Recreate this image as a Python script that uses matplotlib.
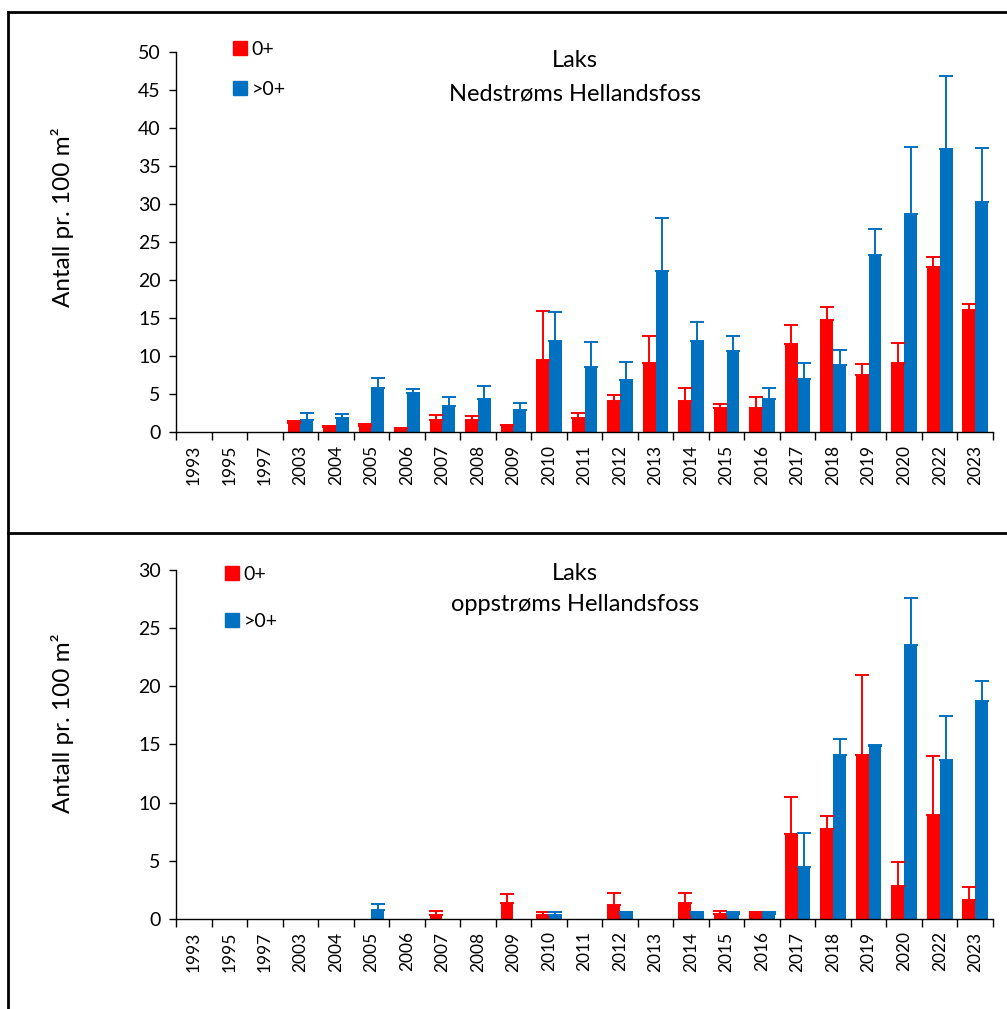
import numpy as np
import matplotlib
matplotlib.use("Agg")
import matplotlib.pyplot as plt
from matplotlib.lines import Line2D
from matplotlib.patches import Patch

plt.rcParams['font.family'] = ['Lato', 'DejaVu Sans']

years = ['1993', '1995', '1997', '2003', '2004', '2005', '2006', '2007', '2008',
         '2009', '2010', '2011', '2012', '2013', '2014', '2015', '2016', '2017',
         '2018', '2019', '2020', '2022', '2023']

# Nedstrøms Hellandsfoss
ned_0 = [0, 0, 0, 1.2, 0.6, 0.8, 0.5, 1.6, 1.6, 0.9, 9.5, 1.8, 4.1, 9.1, 4.1,
         3.2, 3.1, 11.6, 14.8, 7.5, 9.1, 21.7, 16.0]
ned_0_err = [0, 0, 0, 0.3, 0.26, 0.3, 0, 0.7, 0.57, 0.05, 6.4, 0.65, 0.8, 3.6, 1.7,
             0.5, 1.5, 2.5, 1.7, 1.4, 2.6, 1.3, 0.9]
ned_1 = [0, 0, 0, 1.6, 1.8, 5.8, 5.2, 3.4, 4.4, 2.85, 12.0, 8.55, 6.9, 21.2, 12.0,
         10.65, 4.3, 7.0, 8.85, 23.3, 28.7, 37.3, 30.25]
ned_1_err = [0, 0, 0, 0.9, 0.6, 1.3, 0.5, 1.2, 1.7, 1.0, 3.8, 3.3, 2.35, 7.0, 2.5,
             2.0, 1.45, 2.1, 2.0, 3.4, 8.8, 9.6, 7.15]

# oppstrøms Hellandsfoss
opp_0 = [0, 0, 0, 0, 0, 0, 0, 0.37, 0, 1.38, 0.37, 0, 1.22, 0, 1.41,
         0.4, 0.4, 7.34, 7.74, 14.12, 2.82, 8.93, 1.62]
opp_0_err = [0, 0, 0, 0, 0, 0, 0, 0.3, 0, 0.77, 0.23, 0, 1.0, 0, 0.84,
             0.29, 0.2, 3.13, 1.12, 6.84, 2.08, 5.05, 1.15]
opp_1 = [0, 0, 0, 0, 0, 0.74, 0, 0, 0, 0, 0.37, 0, 0.4, 0, 0.4,
         0.4, 0.4, 4.5, 14.12, 14.86, 23.55, 13.64, 18.75]
opp_1_err = [0, 0, 0, 0, 0, 0.55, 0, 0, 0, 0, 0.23, 0, 0.2, 0, 0.2,
             0.2, 0.2, 2.93, 1.34, 0.11, 4.05, 3.84, 1.75]

RED = '#FF0000'
BLUE = '#0070C0'
W = 0.36

fig = plt.figure(figsize=(10.07, 10.09), dpi=100)


def panel(rect, v0, e0, v1, e1, ymax, title, title_y, lsp, ylab_y, leg_anchor, leg_sp):
    ax = fig.add_axes(rect)
    x = np.arange(len(years))
    for vals, errs, off, col in [(v0, e0, -W / 2, RED), (v1, e1, W / 2, BLUE)]:
        vals = np.array(vals, float)
        errs = np.array(errs, float)
        ax.bar(x + off, vals, W, color=col, zorder=2)
        m = vals > 0
        ax.errorbar(x[m] + off, vals[m], yerr=[np.zeros(m.sum()), errs[m]],
                    fmt='none', ecolor=col, elinewidth=1.4, capsize=5,
                    capthick=1.4, zorder=3)
    ax.set_xlim(-0.5, len(years) - 0.5)
    ax.set_ylim(0, ymax)
    ax.set_yticks(np.arange(0, ymax + 1, 5))
    ax.set_xticks(x)
    ax.set_xticklabels(years, rotation=90, fontsize=12.5)
    ax.set_xticks(np.arange(len(years) + 1) - 0.5, minor=True)
    ax.tick_params(axis='x', which='major', length=0, pad=9)
    ax.tick_params(axis='x', which='minor', length=6, width=1)
    ax.tick_params(axis='y', length=5, width=1, labelsize=14, pad=6)
    for s in ['top', 'right']:
        ax.spines[s].set_visible(False)
    for s in ['left', 'bottom']:
        ax.spines[s].set_linewidth(1)
    ax.text(0.488, title_y, title, transform=ax.transAxes, ha='center',
            va='top', fontsize=17, linespacing=lsp)
    fig.text(0.062, ylab_y, 'Antall pr. 100 m²', rotation=90,
             ha='center', va='center', fontsize=17.5)
    handles = [Patch(color=RED, label='0+'), Patch(color=BLUE, label='>0+')]
    ax.legend(handles=handles, loc='upper left', bbox_to_anchor=leg_anchor,
              frameon=False, fontsize=14, handlelength=0.72, handleheight=0.72,
              handletextpad=0.25, labelspacing=leg_sp, borderaxespad=0)
    return ax


panel([0.1748, 0.5718, 0.8113, 0.3767], ned_0, ned_0_err, ned_1, ned_1_err, 50,
      'Laks\nNedstrøms Hellandsfoss', 1.005, 1.75, 0.785, (0.06, 1.05), 1.2)
panel([0.1748, 0.0892, 0.8113, 0.3459], opp_0, opp_0_err, opp_1, opp_1_err, 30,
      'Laks\noppstrøms Hellandsfoss', 1.02, 1.6, 0.283, (0.05, 1.035), 1.55)

# outer frame lines
y_top = 1 - 12 / 1009
y_mid = 1 - 533 / 1009
x_left = 8 / 1007
for xs, ys in [([x_left, x_left], [0, y_top]), ([x_left, 1], [y_top, y_top]),
               ([x_left, 1], [y_mid, y_mid])]:
    fig.add_artist(Line2D(xs, ys, color='black', lw=2, transform=fig.transFigure))

fig.savefig('out.png', dpi=100)
